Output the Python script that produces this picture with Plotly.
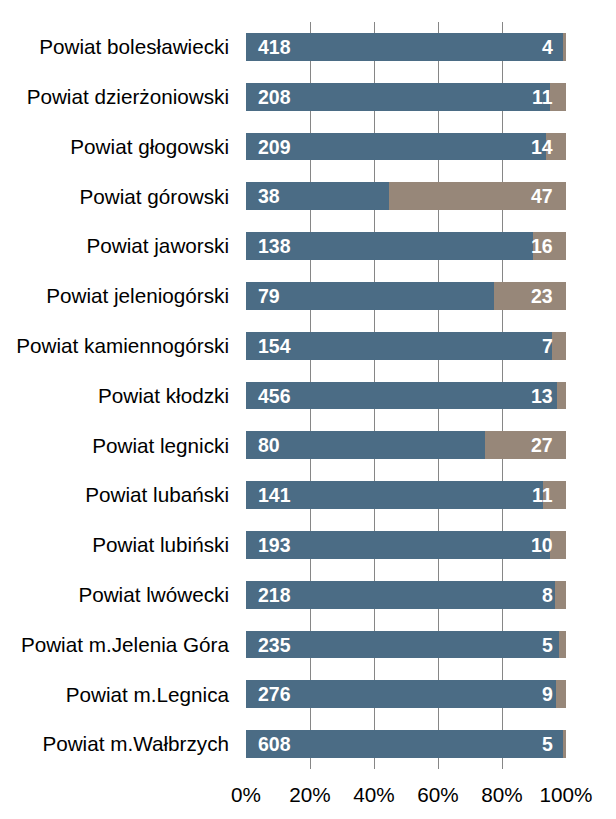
import plotly.graph_objects as go

categories = [
    "Powiat bolesławiecki", "Powiat dzierżoniowski", "Powiat głogowski",
    "Powiat górowski", "Powiat jaworski", "Powiat jeleniogórski",
    "Powiat kamiennogórski", "Powiat kłodzki", "Powiat legnicki",
    "Powiat lubański", "Powiat lubiński", "Powiat lwówecki",
    "Powiat m.Jelenia Góra", "Powiat m.Legnica", "Powiat m.Wałbrzych",
]
series_a = [418, 208, 209, 38, 138, 79, 154, 456, 80, 141, 193, 218, 235, 276, 608]
series_b = [4, 11, 14, 47, 16, 23, 7, 13, 27, 11, 10, 8, 5, 9, 5]
tick_vals = [0, 0.2, 0.4, 0.6, 0.8, 1.0]
tick_text = ["0%", "20%", "40%", "60%", "80%", "100%"]

COL_A = "#4B6C85"
COL_B = "#978779"
FONT = "Liberation Sans, Arial, sans-serif"

fig = go.Figure()
fig.add_trace(go.Bar(y=categories, x=series_a, orientation="h",
                     marker=dict(color=COL_A, line=dict(width=0)),
                     hoverinfo="skip", name="A"))
fig.add_trace(go.Bar(y=categories, x=series_b, orientation="h",
                     marker=dict(color=COL_B, line=dict(width=0)),
                     hoverinfo="skip", name="B"))

annotations = []
for c, a, b in zip(categories, series_a, series_b):
    annotations.append(dict(x=0, y=c, xref="x", yref="y", text=f"<b>{a}</b>",
                            showarrow=False, xanchor="left", xshift=10,
                            font=dict(color="white", size=19.5, family=FONT)))
    annotations.append(dict(x=1, y=c, xref="x", yref="y", text=f"<b>{b}</b>",
                            showarrow=False, xanchor="right", xshift=-11,
                            font=dict(color="white", size=19.5, family=FONT)))

# page body has an 8px margin, so the figure is reduced by 8px on the top/left
fig.update_layout(
    width=608, height=811,
    margin=dict(l=238, r=50, t=14, b=50),
    barmode="stack", barnorm="fraction", bargap=0.44,
    plot_bgcolor="white", paper_bgcolor="white",
    showlegend=False,
    font=dict(family=FONT, size=20.7, color="black"),
    annotations=annotations,
    xaxis=dict(range=[0, 1], tickvals=tick_vals, ticktext=tick_text,
               showgrid=True, gridcolor="#868686", gridwidth=1,
               zeroline=False, showline=False, ticks="",
               ticklabelstandoff=11, fixedrange=True, automargin=False),
    yaxis=dict(autorange="reversed", showgrid=False, zeroline=False,
               showline=False, ticks="", ticklabelstandoff=16,
               fixedrange=True, automargin=False),
)

fig.write_html("out.html")
